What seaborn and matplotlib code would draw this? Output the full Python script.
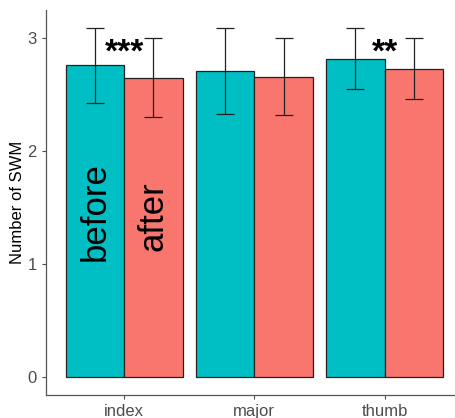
import pandas as pd
import seaborn as sns
import matplotlib.pyplot as plt

# values
fingers = ['index', 'major', 'thumb']
before_mean = [2.76, 2.71, 2.82]
after_mean = [2.65, 2.66, 2.73]
before_err = [0.33, 0.38, 0.27]
after_err = [0.35, 0.34, 0.27]
stars = ['***', '', '**']

df = pd.DataFrame({
    'finger': fingers * 2,
    'time': ['before'] * 3 + ['after'] * 3,
    'swm': before_mean + after_mean,
    'err': before_err + after_err,
})

sns.set_style('white')
plt.rcParams['font.family'] = ['Liberation Sans', 'DejaVu Sans']

fig = plt.figure(figsize=(4.56, 4.18), dpi=100)
ax = fig.add_axes([46 / 456, 23 / 418, 1 - 46 / 456 + 0.015, 385 / 418])

sns.barplot(
    data=df, x='finger', y='swm', hue='time',
    hue_order=['before', 'after'],
    palette={'before': '#00BFC4', 'after': '#F8766D'},
    saturation=1, width=0.9, gap=0, errorbar=None,
    edgecolor='#222222', linewidth=0.9, ax=ax, legend=False
)

# error bars drawn at each bar centre
for bar, (_, row) in zip(ax.patches, df.iterrows()):
    xc = bar.get_x() + bar.get_width() / 2
    ax.errorbar(xc, row['swm'], yerr=row['err'], color='#222222',
                capsize=6.5, elinewidth=0.9, capthick=0.9)

# significance stars
for i, s in enumerate(stars):
    if s:
        ax.text(i, 2.87, s, ha='center', va='center', fontsize=24,
                fontweight='bold', color='black')

# before / after labels inside the first group
ax.text(-0.225, 1.47, 'before', rotation=90, ha='center', va='center',
        fontsize=25, color='black')
ax.text(0.225, 1.43, 'after', rotation=90, ha='center', va='center',
        fontsize=25, color='black')

ax.set_xlim(-0.6, 2.6)
ax.set_ylim(-0.155, 3.25)
ax.set_yticks([0, 1, 2, 3])
ax.set_xlabel('')
ax.set_ylabel('Number of SWM', fontsize=12, color='black', labelpad=2)
ax.tick_params(axis='both', colors='#4D4D4D', labelsize=12, length=3, width=0.8,
               direction='out', left=True, bottom=True)
for side in ['top', 'right']:
    ax.spines[side].set_visible(False)
for side in ['left', 'bottom']:
    ax.spines[side].set_color('#555555')
    ax.spines[side].set_linewidth(0.9)

fig.savefig('out.png', dpi=100)
